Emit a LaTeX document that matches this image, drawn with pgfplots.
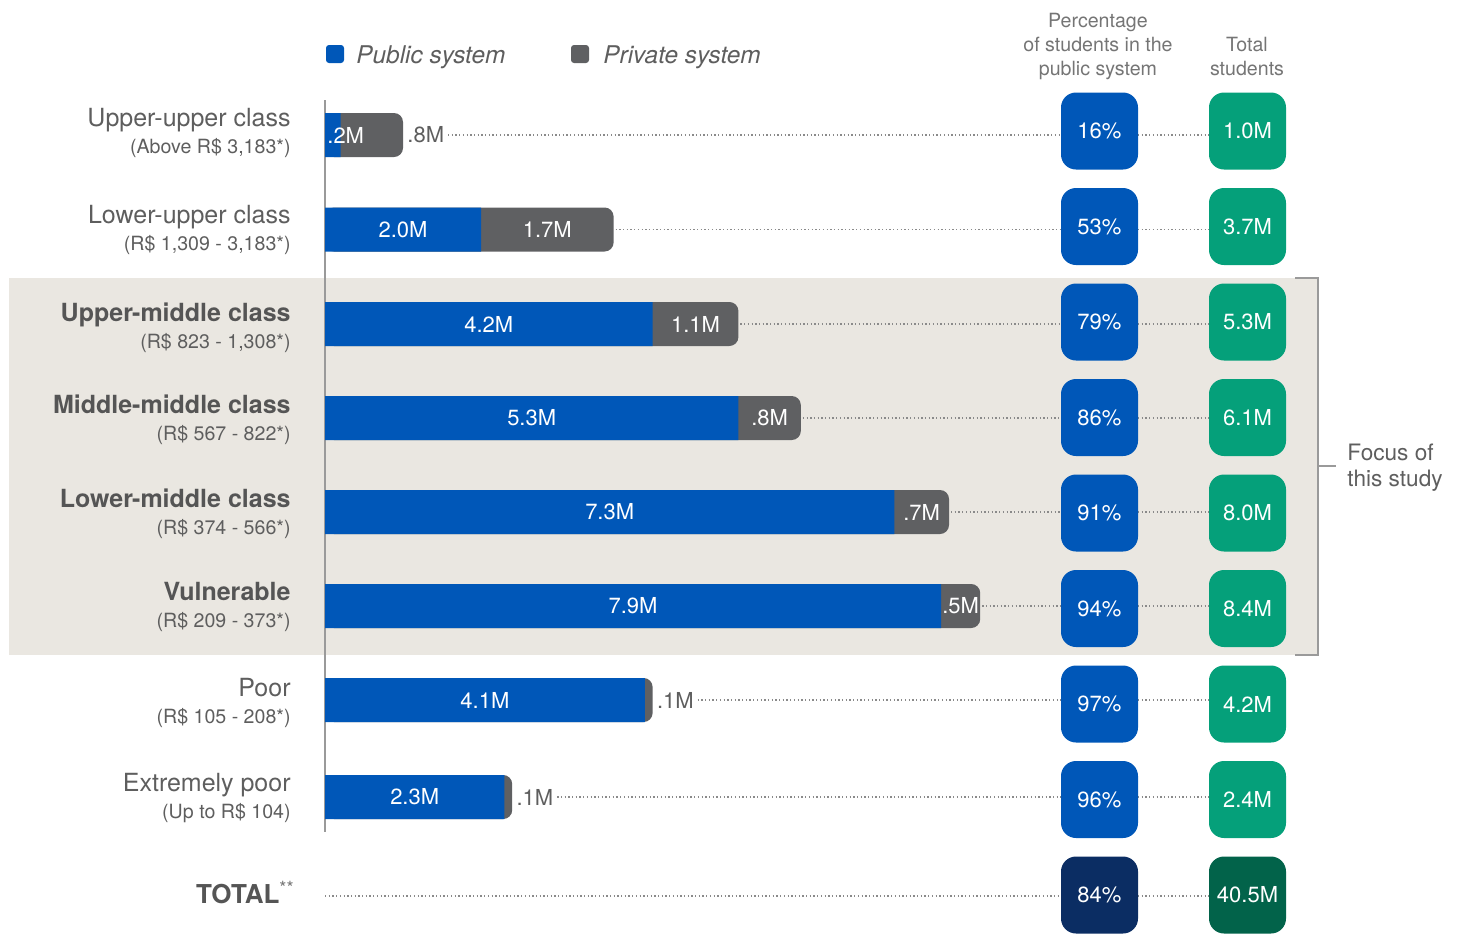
\documentclass[border=0pt]{standalone}
\usepackage{pgfplots}
\pgfplotsset{compat=1.18}
\usepackage{pgfplotstable}
\usepackage{fontspec}
\setmainfont{TeX Gyre Heros}
\definecolor{pubblue}{HTML}{0057B8}
\definecolor{privgrey}{HTML}{5F6062}
\definecolor{tgreen}{HTML}{05A07A}
\definecolor{navy}{HTML}{0B2D63}
\definecolor{dgreen}{HTML}{02634A}
\definecolor{band}{HTML}{EAE7E1}
\definecolor{txt}{HTML}{5E5E5E}
\definecolor{htxt}{HTML}{757575}
\definecolor{rulec}{HTML}{9A9A9A}
\definecolor{dotc}{HTML}{8A8A8A}
\newcommand\fLab{\fontsize{12.5}{14}\selectfont}
\newcommand\fSub{\fontsize{9.8}{12}\selectfont}
\newcommand\fBar{\fontsize{11}{13}\selectfont}
\newcommand\fBox{\fontsize{11}{12}\selectfont}
\newcommand\fLeg{\fontsize{12.2}{14}\selectfont}
\newcommand\fHead{\fontsize{9.8}{12}\selectfont}
\newcommand\fFocus{\fontsize{11.3}{13}\selectfont}
\newcommand\fTot{\fontsize{13}{14}\selectfont}

% bar data (y = row position in pixels from top, values in millions of students)
\pgfplotstableread{
y      pub   tot
135    0.2   1.0
229.5  2.0   3.7
324    4.2   5.3
418    5.3   6.1
512    7.3   8.0
606    7.9   8.4
700    4.1   4.2
797    2.3   2.4
}\bars

% right-hand columns
\pgfplotstableread{
y      pct    total
131    16\%   1.0M
226.5  53\%   3.7M
322    79\%   5.3M
417.5  86\%   6.1M
513    91\%   8.0M
608.5  94\%   8.4M
704    97\%   4.2M
799.5  96\%   2.4M
}\boxes

\tikzset{
  dotline/.style={dotc, line width=0.65pt, dash pattern=on 0.65pt off 1.2pt},
  barlab/.style={text=white, font=\fBar, inner sep=0pt, anchor=center},
  outlab/.style={text=txt, font=\fBar, inner sep=0pt, anchor=west},
  mlab/.style={text=txt, font=\fLab, inner sep=0pt, anchor=base east},
  blab/.style={text=txt!90!black, font=\fLab\bfseries, inner sep=0pt, anchor=base east},
  slab/.style={text=txt, font=\fSub, inner sep=0pt, anchor=base east},
  hlab/.style={text=htxt, font=\fHead, inner sep=0pt, anchor=base},
}

\begin{document}
\begin{tikzpicture}
\begin{axis}[
  x=39pt, y=0.5pt,
  xmin=-4.16667, xmax=14.58974,
  ymin=0, ymax=933,
  y dir=reverse,
  axis lines=none,
  clip=false,
]
\coordinate (BL) at (rel axis cs:0,0);
\coordinate (TR) at (rel axis cs:1,1);

% focus band and bracket
\fill[band] (axis cs:-4.05128,278) rectangle (axis cs:12.73077,655);
\draw[rulec, line width=0.75pt] (axis cs:12.43590,278) -- (axis cs:12.73077,278) -- (axis cs:12.73077,655) -- (axis cs:12.43590,655);
\draw[rulec, line width=0.75pt] (axis cs:12.73077,466) -- (axis cs:12.96154,466);
\node[text=txt, font=\fFocus, inner sep=0pt, anchor=base west] at (axis cs:13.10256,460) {Focus of};
\node[text=txt, font=\fFocus, inner sep=0pt, anchor=base west] at (axis cs:13.10256,486) {this study};

% vertical axis line
\draw[rulec, line width=0.75pt] (axis cs:0,100) -- (axis cs:0,832);

% dotted leader lines
\draw[dotline] ([xshift=22.5pt]axis cs:1.0,135) -- (axis cs:9.4359,135);
\draw[dotline] ([xshift=1pt]axis cs:3.7,229.5) -- (axis cs:9.4359,229.5);
\draw[dotline] ([xshift=1pt]axis cs:5.3,324) -- (axis cs:9.4359,324);
\draw[dotline] ([xshift=1pt]axis cs:6.1,418) -- (axis cs:9.4359,418);
\draw[dotline] ([xshift=1pt]axis cs:8.0,512) -- (axis cs:9.4359,512);
\draw[dotline] ([xshift=1pt]axis cs:8.4,606) -- (axis cs:9.4359,606);
\draw[dotline] ([xshift=22.5pt]axis cs:4.2,700) -- (axis cs:9.4359,700);
\draw[dotline] ([xshift=22.5pt]axis cs:2.4,797) -- (axis cs:9.4359,797);
\draw[dotline] (axis cs:0,896) -- (axis cs:9.4359,896);
\pgfplotsinvokeforeach{135,229.5,324,418,512,606,700,797,896}{
  \draw[dotline] (axis cs:10.4231,#1) -- (axis cs:11.3462,#1);
}

% bars: totals (grey, rounded end) with public (blue) on top
\addplot[xbar, bar shift=0pt, bar width=44, fill=privgrey, draw=none, rounded corners=4.5pt] table[x=tot, y=y]{\bars};
\addplot[xbar, bar shift=0pt, bar width=44, fill=pubblue, draw=none] table[x=pub, y=y]{\bars};

% bar labels
\node[text=white, font=\fBar, inner sep=0pt, anchor=west] at (axis cs:0.0256,135) {.2M};
\node[outlab] at ([xshift=2pt]axis cs:1.0,135) {.8M};
\node[barlab] at (axis cs:1.0,229.5) {2.0M};
\node[barlab] at (axis cs:2.85,229.5) {1.7M};
\node[barlab] at (axis cs:2.1,324) {4.2M};
\node[barlab] at (axis cs:4.75,324) {1.1M};
\node[barlab] at (axis cs:2.65,418) {5.3M};
\node[barlab] at (axis cs:5.7,418) {.8M};
\node[barlab] at (axis cs:3.65,512) {7.3M};
\node[barlab] at (axis cs:7.65,512) {.7M};
\node[barlab] at (axis cs:3.95,606) {7.9M};
\node[barlab] at (axis cs:8.15,606) {.5M};
\node[barlab] at (axis cs:2.05,700) {4.1M};
\node[outlab] at ([xshift=2pt]axis cs:4.2,700) {.1M};
\node[barlab] at (axis cs:1.15,797) {2.3M};
\node[outlab] at ([xshift=2pt]axis cs:2.4,797) {.1M};

% right-hand boxes
\addplot[only marks, mark=*, mark size=0.01pt, mark options={draw=none, fill=none},
  point meta=explicit symbolic, nodes near coords,
  nodes near coords style={anchor=center, fill=pubblue, text=white, rounded corners=7.5pt,
    minimum width=38.5pt, minimum height=38.5pt, inner sep=0pt, font=\fBox}]
  table[x expr=9.9295, y=y, meta=pct]{\boxes};
\addplot[only marks, mark=*, mark size=0.01pt, mark options={draw=none, fill=none},
  point meta=explicit symbolic, nodes near coords,
  nodes near coords style={anchor=center, fill=tgreen, text=white, rounded corners=7.5pt,
    minimum width=38.5pt, minimum height=38.5pt, inner sep=0pt, font=\fBox}]
  table[x expr=11.827, y=y, meta=total]{\boxes};
\addplot[only marks, mark=*, mark size=0.01pt, mark options={draw=none, fill=none},
  point meta=explicit symbolic, nodes near coords,
  nodes near coords style={anchor=center, fill=navy, text=white, rounded corners=7.5pt,
    minimum width=38.5pt, minimum height=38.5pt, inner sep=0pt, font=\fBox}]
  coordinates {(9.9295,895) [84\%]};
\addplot[only marks, mark=*, mark size=0.01pt, mark options={draw=none, fill=none},
  point meta=explicit symbolic, nodes near coords,
  nodes near coords style={anchor=center, fill=dgreen, text=white, rounded corners=7.5pt,
    minimum width=38.5pt, minimum height=38.5pt, inner sep=0pt, font=\fBox}]
  coordinates {(11.827,895) [40.5M]};

% column headers
\node[hlab] at (axis cs:9.9103,27) {Percentage};
\node[hlab] at (axis cs:9.9103,51) {of students in the};
\node[hlab] at (axis cs:9.9103,75) {public system};
\node[hlab] at (axis cs:11.8205,51) {Total};
\node[hlab] at (axis cs:11.8205,75) {students};

% legend
\fill[pubblue, rounded corners=1.5pt] (axis cs:0.0128,45) rectangle (axis cs:0.2436,63);
\node[text=txt, font=\fLeg\itshape, inner sep=0pt, anchor=base west] at (axis cs:0.3974,63) {Public system};
\fill[privgrey, rounded corners=1.5pt] (axis cs:3.1538,45) rectangle (axis cs:3.3846,63);
\node[text=txt, font=\fLeg\itshape, inner sep=0pt, anchor=base west] at (axis cs:3.5641,63) {Private system};

% row labels
\node[mlab] at (axis cs:-0.4359,126) {Upper-upper class};
\node[slab] at (axis cs:-0.4359,153) {(Above R\$ 3,183*)};
\node[mlab] at (axis cs:-0.4359,223.5) {Lower-upper class};
\node[slab] at (axis cs:-0.4359,250.5) {(R\$ 1,309 - 3,183*)};
\node[blab] at (axis cs:-0.4359,321) {Upper-middle class};
\node[slab] at (axis cs:-0.4359,348) {(R\$ 823 - 1,308*)};
\node[blab] at (axis cs:-0.4359,413) {Middle-middle class};
\node[slab] at (axis cs:-0.4359,440) {(R\$ 567 - 822*)};
\node[blab] at (axis cs:-0.4359,507) {Lower-middle class};
\node[slab] at (axis cs:-0.4359,534) {(R\$ 374 - 566*)};
\node[blab] at (axis cs:-0.4359,600) {Vulnerable};
\node[slab] at (axis cs:-0.4359,627) {(R\$ 209 - 373*)};
\node[mlab] at (axis cs:-0.4359,696) {Poor};
\node[slab] at (axis cs:-0.4359,723) {(R\$ 105 - 208*)};
\node[mlab] at (axis cs:-0.4359,791) {Extremely poor};
\node[slab] at (axis cs:-0.4359,818) {(Up to R\$ 104)};
\node[text=txt!90!black, font=\fTot, inner sep=0pt, anchor=base east] at (axis cs:-0.3846,903) {\textbf{TOTAL}\textsuperscript{\textcolor{htxt}{**}}};
\end{axis}
\pgfresetboundingbox
\path (BL) rectangle (TR);
\end{tikzpicture}
\end{document}
